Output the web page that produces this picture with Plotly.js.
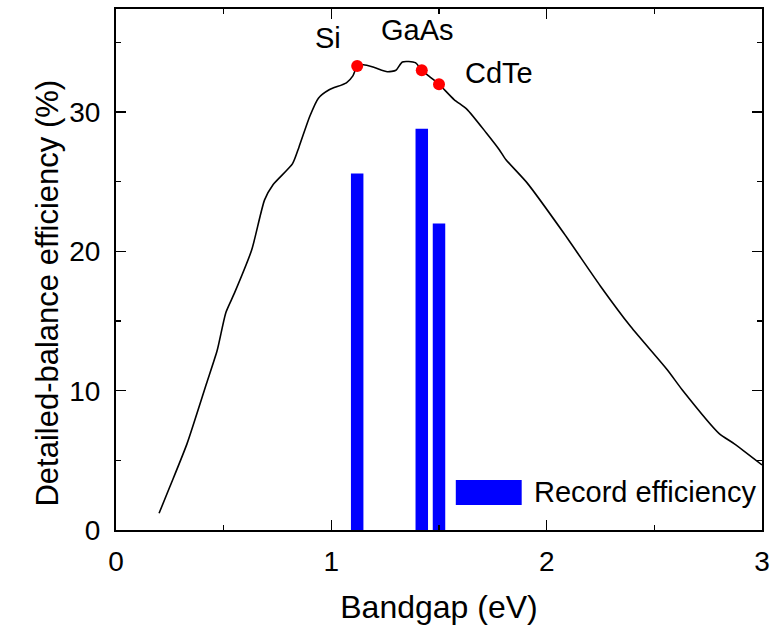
<!DOCTYPE html>
<html>
<head>
<meta charset="utf-8">
<script src="https://cdn.plot.ly/plotly-3.0.1.min.js"></script>
<style>html,body{margin:0;padding:0;background:#fff;}#chart{width:770px;height:631px;}</style>
</head>
<body>
<div id="chart"></div>
<script>
// Detailed-balance efficiency curve (bandgap eV, efficiency %)
const curveX = [0.2, 0.25, 0.33, 0.42, 0.47, 0.51, 0.55, 0.63, 0.69, 0.73, 0.82, 0.85, 0.90, 0.94, 0.99, 1.07, 1.10, 1.12, 1.15, 1.20, 1.26, 1.30, 1.33, 1.39, 1.42, 1.46, 1.50, 1.57, 1.63, 1.72, 1.78, 1.81, 1.91, 2.08, 2.25, 2.39, 2.56, 2.63, 2.80, 2.87, 3.0];
const curveY = [1.2, 3.1, 6.2, 10.5, 12.9, 15.6, 17.0, 20.1, 23.7, 24.8, 26.3, 27.5, 29.7, 31.0, 31.6, 32.1, 32.6, 33.3, 33.4, 33.2, 32.9, 33.0, 33.6, 33.55, 33.0, 32.5, 32.0, 30.9, 30.2, 28.5, 27.3, 26.6, 24.9, 21.3, 17.5, 14.6, 11.5, 10.05, 6.94, 6.2, 4.67];

// Materials
const materials = ["Si", "GaAs", "CdTe"];
const bandgaps = [1.12, 1.42, 1.50];
const limitEff = [33.3, 33.0, 32.0];
const recordEff = [25.6, 28.8, 22.0];
const labelX = [0.984, 1.401, 1.777];
const labelY = [35.3, 35.9, 32.8];

const xTicks = [0, 1, 2, 3];
const yTicks = [0, 10, 20, 30];

const FONT = "Liberation Sans, Arial, sans-serif";

const traces = [
  {
    type: "bar", x: bandgaps, y: recordEff, width: 0.058,
    marker: {color: "#0000ff", line: {width: 0}},
    name: "Record efficiency", showlegend: false, hoverinfo: "skip"
  },
  {
    type: "scatter", mode: "lines", x: curveX, y: curveY,
    line: {color: "#000", width: 1.6, shape: "spline", smoothing: 0.6},
    showlegend: false
  },
  {
    type: "scatter", mode: "markers", x: bandgaps, y: limitEff,
    marker: {color: "#ff0000", size: 12},
    showlegend: false
  }
];

const annotations = materials.map((m, i) => ({
  text: m, x: labelX[i], y: labelY[i], xref: "x", yref: "y",
  showarrow: false, font: {family: FONT, size: 29, color: "#000"}
}));
annotations.push({
  text: "Detailed-balance efficiency (%)", textangle: -90,
  x: -0.136, y: 0.455, xref: "paper", yref: "paper",
  showarrow: false, font: {family: FONT, size: 31, color: "#000"}
});
annotations.push({
  text: "Record efficiency", x: 0.644, y: 0.072, xref: "paper", yref: "paper",
  xanchor: "left", yanchor: "middle",
  showarrow: false, font: {family: FONT, size: 29, color: "#000"}
});

const layout = {
  width: 770, height: 631,
  margin: {l: 116, r: 8, t: 9, b: 101},
  paper_bgcolor: "#fff", plot_bgcolor: "#fff",
  font: {family: FONT, color: "#000"},
  showlegend: false,
  xaxis: {
    range: [0, 3], tickvals: xTicks, ticktext: xTicks.map(String),
    ticks: "inside", ticklen: 10, tickwidth: 1.5, tickcolor: "#000",
    minor: {dtick: 0.5, tick0: 0, ticks: "inside", ticklen: 5, tickwidth: 1.5, tickcolor: "#000"},
    showline: true, linecolor: "#000", linewidth: 2, mirror: "ticks",
    showgrid: false, zeroline: false,
    tickfont: {family: FONT, size: 28, color: "#000"},
    ticklabelstandoff: 5,
    title: {text: "Bandgap (eV)", font: {family: FONT, size: 32, color: "#000"}, standoff: 20}
  },
  yaxis: {
    range: [0, 37.4], tickvals: yTicks, ticktext: yTicks.map(String),
    ticks: "inside", ticklen: 10, tickwidth: 1.5, tickcolor: "#000",
    minor: {dtick: 5, tick0: 0, ticks: "inside", ticklen: 5, tickwidth: 1.5, tickcolor: "#000"},
    showline: true, linecolor: "#000", linewidth: 2, mirror: "ticks",
    showgrid: false, zeroline: false,
    tickfont: {family: FONT, size: 28, color: "#000"},
    ticklabelstandoff: 8
  },
  shapes: [{
    type: "rect", xref: "paper", yref: "paper",
    x0: 0.526, x1: 0.628, y0: 0.048, y1: 0.096,
    fillcolor: "#0000ff", line: {width: 0}
  }],
  annotations: annotations
};

Plotly.newPlot("chart", traces, layout, {staticPlot: true, displayModeBar: false});
</script>
</body>
</html>
